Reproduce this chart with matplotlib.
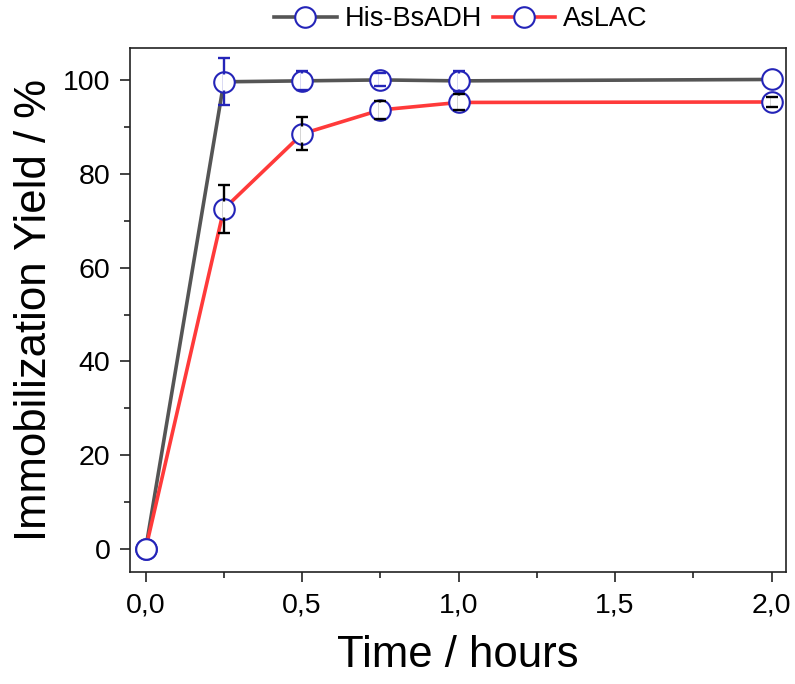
import matplotlib
matplotlib.use("Agg")
import matplotlib.pyplot as plt
from matplotlib.ticker import MultipleLocator, FuncFormatter

plt.rcParams['font.family'] = ['Liberation Sans', 'DejaVu Sans']

# immobilization time course (hours) and yields (%)
time_h = [0.0, 0.25, 0.5, 0.75, 1.0, 2.0]
his_bsadh = [0.0, 99.6, 99.8, 100.0, 99.8, 100.1]
his_bsadh_err = [0.0, 5.0, 2.0, 1.4, 2.2, 0.0]
aslac = [0.0, 72.5, 88.5, 93.6, 95.2, 95.3]
aslac_err = [0.0, 5.1, 3.5, 1.9, 1.7, 1.1]

series_names = ["His-BsADH", "AsLAC"]

marker_blue = '#2424b8'
ms = 14.8

fig = plt.figure(figsize=(7.95, 6.84), dpi=100)
ax = fig.add_axes([0.1635, 0.1642, 0.8248, 0.7656])

ax.set_xlim(-0.05, 2.045)
ax.set_ylim(-4.8, 106.8)

h1, = ax.plot(time_h, his_bsadh, color='#555555', lw=2.6, marker='o', ms=ms,
              mfc='white', mec=marker_blue, mew=1.5, zorder=2.5,
              label=series_names[0])
h2, = ax.plot(time_h, aslac, color='#ff3a3a', lw=2.6, marker='o', ms=ms,
              mfc='white', mec=marker_blue, mew=1.5, zorder=2.6,
              label=series_names[1])

# marker radius in data units, so stems inside the open circles can be blanked
fig.canvas.draw()
p0 = ax.transData.transform((0, 0))
p1 = ax.transData.transform((0, 1))
px_per_unit = p1[1] - p0[1]
r_in = (ms / 2 * fig.dpi / 72 - 2.5) / px_per_unit


def draw_err(x, y, err, color, z):
    xs = [a for a, e in zip(x, err) if e > 0]
    ys = [b for b, e in zip(y, err) if e > 0]
    es = [e for e in err if e > 0]
    _, caps, bars = ax.errorbar(xs, ys, yerr=es, fmt='none', ecolor=color,
                                elinewidth=1.7, capsize=4.3, capthick=1.7)
    for b in bars:
        b.set_zorder(z)
    for c in caps:
        c.set_zorder(z + 0.2)
    for a, b, e in zip(xs, ys, es):
        g = min(e, r_in)
        ax.plot([a, a], [b - g, b + g], color='white', lw=2.3,
                solid_capstyle='butt', zorder=z + 0.1)


draw_err(time_h, his_bsadh, his_bsadh_err, marker_blue, 3.0)
draw_err(time_h, aslac, aslac_err, 'black', 3.5)

ax.xaxis.set_major_locator(MultipleLocator(0.5))
ax.xaxis.set_minor_locator(MultipleLocator(0.25))
ax.yaxis.set_major_locator(MultipleLocator(20))
ax.yaxis.set_minor_locator(MultipleLocator(10))
ax.xaxis.set_major_formatter(FuncFormatter(lambda v, p: f"{v:.1f}".replace('.', ',')))
ax.yaxis.set_major_formatter(FuncFormatter(lambda v, p: f"{v:.0f}"))

ax.tick_params(which='both', direction='out', width=1.2, colors='#222222',
               labelcolor='black')
ax.tick_params(which='major', length=7.2, labelsize=20.5)
ax.tick_params(axis='x', which='major', pad=8)
ax.tick_params(axis='y', which='major', pad=7)
ax.tick_params(which='minor', length=4)
for s in ax.spines.values():
    s.set_linewidth(1.2)
    s.set_color('#222222')

ax.set_xlabel("Time / hours", fontsize=31.5)
ax.set_ylabel("Immobilization Yield / %", fontsize=31.5)
ax.xaxis.set_label_coords(0.5, -0.121)
ax.yaxis.set_label_coords(-0.115, 0.5)

fig.legend(handles=[h1, h2], loc='center', bbox_to_anchor=(461 / 795, 0.972),
           ncol=2, frameon=False, fontsize=19.5, handlelength=2.3,
           handletextpad=0.3, columnspacing=0.4, borderpad=0)

fig.savefig("out.png", dpi=100)
